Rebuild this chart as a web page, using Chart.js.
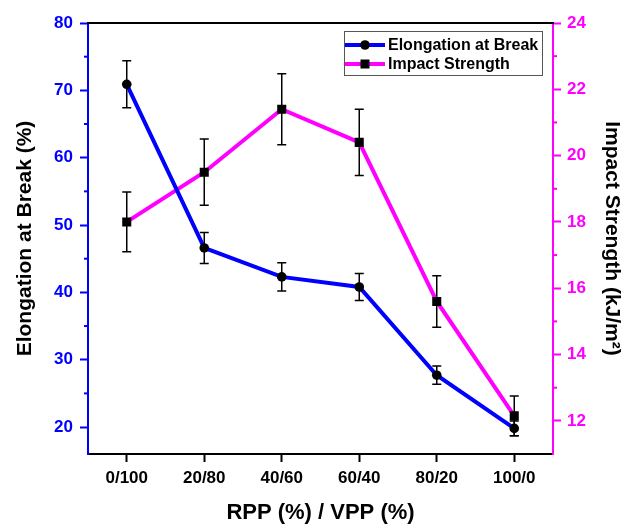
<!DOCTYPE html>
<html>
<head>
<meta charset="utf-8">
<script src="https://cdn.jsdelivr.net/npm/chart.js@4.4.0/dist/chart.umd.min.js"></script>
<style>
  body { margin: 0; background: #fff; }
  #wrap { width: 629px; height: 524px; }
</style>
</head>
<body>
<div id="wrap"><canvas id="blend" width="629" height="524"></canvas></div>
<script>
// RPP / VPP blend ratios
const ratios = ["0/100", "20/80", "40/60", "60/40", "80/20", "100/0"];

// Elongation at break (%) with std. deviation
const elongation = [70.9, 46.6, 42.3, 40.8, 27.7, 19.8];
const elongationErr = [3.5, 2.3, 2.1, 2.0, 1.35, 1.1];

// Impact strength (kJ/m2) with std. deviation
const impact = [18.0, 19.5, 21.4, 20.4, 15.6, 12.15];
const impactErr = [0.9, 1.0, 1.07, 1.0, 0.78, 0.6];

// axis ticks
const elongationTicks = [20, 30, 40, 50, 60, 70, 80];
const elongationMinor = [25, 35, 45, 55, 65, 75];
const impactTicks = [12, 14, 16, 18, 20, 22, 24];
const impactMinor = [13, 15, 17, 19, 21, 23];

const BLUE = "#0000ff";
const MAGENTA = "#ff00ff";
const FONT = "'Liberation Sans', Arial, sans-serif";

Chart.defaults.font.family = FONT;

// vertical error bars drawn from each dataset's "errors" array
const errorBars = {
    id: "errorBars",
    beforeDatasetsDraw(chart) {
        const ctx = chart.ctx;
        ctx.save();
        ctx.strokeStyle = "#000";
        ctx.lineWidth = 1.5;
        chart.data.datasets.forEach((ds, i) => {
            const meta = chart.getDatasetMeta(i);
            const scale = chart.scales[ds.yAxisID];
            meta.data.forEach((pt, j) => {
                const top = scale.getPixelForValue(ds.data[j] + ds.errors[j]);
                const bot = scale.getPixelForValue(ds.data[j] - ds.errors[j]);
                ctx.beginPath();
                ctx.moveTo(pt.x, top);
                ctx.lineTo(pt.x, bot);
                ctx.moveTo(pt.x - 4.5, top);
                ctx.lineTo(pt.x + 4.5, top);
                ctx.moveTo(pt.x - 4.5, bot);
                ctx.lineTo(pt.x + 4.5, bot);
                ctx.stroke();
            });
        });
        ctx.restore();
    }
};

// top frame line, minor ticks and the boxed legend
const frame = {
    id: "frame",
    afterDraw(chart) {
        const ctx = chart.ctx;
        const area = chart.chartArea;
        ctx.save();
        ctx.strokeStyle = "#000";
        ctx.lineWidth = 2;
        ctx.beginPath();
        ctx.moveTo(area.left - 1, area.top);
        ctx.lineTo(area.right + 1, area.top);
        ctx.stroke();

        ctx.strokeStyle = BLUE;
        elongationMinor.forEach(v => {
            const y = chart.scales.y.getPixelForValue(v);
            ctx.beginPath();
            ctx.moveTo(area.left - 4, y);
            ctx.lineTo(area.left, y);
            ctx.stroke();
        });
        ctx.strokeStyle = MAGENTA;
        impactMinor.forEach(v => {
            const y = chart.scales.y1.getPixelForValue(v);
            ctx.beginPath();
            ctx.moveTo(area.right, y);
            ctx.lineTo(area.right + 4, y);
            ctx.stroke();
        });

        // legend
        const lx = area.right - 209, ly = area.top + 8;
        ctx.strokeStyle = "#555";
        ctx.lineWidth = 1;
        ctx.strokeRect(lx + 0.5, ly + 0.5, 198, 44);
        ctx.font = "bold 16px " + FONT;
        ctx.textBaseline = "middle";
        chart.data.datasets.forEach((ds, i) => {
            const y = ly + 14 + i * 19;
            ctx.strokeStyle = ds.borderColor;
            ctx.lineWidth = 4;
            ctx.beginPath();
            ctx.moveTo(lx + 1, y);
            ctx.lineTo(lx + 41, y);
            ctx.stroke();
            ctx.fillStyle = "#000";
            if (ds.pointStyle === "circle") {
                ctx.beginPath();
                ctx.arc(lx + 21, y, 4.8, 0, Math.PI * 2);
                ctx.fill();
            } else {
                ctx.fillRect(lx + 16.5, y - 4.5, 9, 9);
            }
            ctx.fillText(ds.label, lx + 44, y + 1);
        });
        ctx.restore();
    }
};

new Chart(document.getElementById("blend"), {
    type: "line",
    data: {
        labels: ratios,
        datasets: [{
            label: "Elongation at Break",
            data: elongation,
            errors: elongationErr,
            yAxisID: "y",
            borderColor: BLUE,
            borderWidth: 4,
            pointStyle: "circle",
            pointRadius: 4.8,
            pointBackgroundColor: "#000",
            pointBorderColor: "#000",
            pointBorderWidth: 0,
            tension: 0
        }, {
            label: "Impact Strength",
            data: impact,
            errors: impactErr,
            yAxisID: "y1",
            borderColor: MAGENTA,
            borderWidth: 4,
            pointStyle: "rect",
            pointRadius: 6.4,
            pointBackgroundColor: "#000",
            pointBorderColor: "#000",
            pointBorderWidth: 0,
            tension: 0
        }]
    },
    options: {
        responsive: false,
        animation: false,
        layout: { padding: { top: 23, left: 0, right: 0, bottom: 0 } },
        plugins: {
            legend: { display: false },
            tooltip: { enabled: false }
        },
        scales: {
            x: {
                type: "category",
                offset: true,
                grid: { drawOnChartArea: false, offset: false, tickLength: 8, tickColor: "#000", tickWidth: 2 },
                border: { color: "#000", width: 2 },
                ticks: { color: "#000", font: { size: 17, weight: "bold" }, padding: 6, maxRotation: 0 },
                title: {
                    display: true,
                    text: "RPP (%) / VPP (%)",
                    color: "#000",
                    font: { size: 22, weight: "bold", lineHeight: 1 },
                    padding: { top: 0, bottom: 0 }
                },
                afterFit: s => { s.height = 70; }
            },
            y: {
                position: "left",
                min: 16,
                max: 80,
                afterBuildTicks: s => { s.ticks = elongationTicks.map(v => ({ value: v })); },
                grid: { drawOnChartArea: false, tickLength: 8, tickColor: BLUE, tickWidth: 2 },
                border: { color: BLUE, width: 2 },
                ticks: { color: BLUE, font: { size: 17, weight: "bold" }, padding: 7 },
                title: {
                    display: true,
                    text: "Elongation at Break (%)",
                    color: "#000",
                    font: { size: 21, weight: "bold" },
                    padding: { top: 13, bottom: 0 }
                },
                afterFit: s => { s.width = 88; }
            },
            y1: {
                position: "right",
                min: 11,
                max: 24,
                afterBuildTicks: s => { s.ticks = impactTicks.map(v => ({ value: v })); },
                grid: { drawOnChartArea: false, tickLength: 8, tickColor: MAGENTA, tickWidth: 2 },
                border: { color: MAGENTA, width: 2 },
                ticks: { color: MAGENTA, font: { size: 17, weight: "bold" }, padding: 6 },
                title: {
                    display: true,
                    text: "Impact Strength (kJ/m²)",
                    color: "#000",
                    font: { size: 21, weight: "bold" },
                    padding: { top: 5, bottom: 0 }
                },
                afterFit: s => { s.width = 76; }
            }
        }
    },
    plugins: [errorBars, frame]
});
</script>
</body>
</html>
